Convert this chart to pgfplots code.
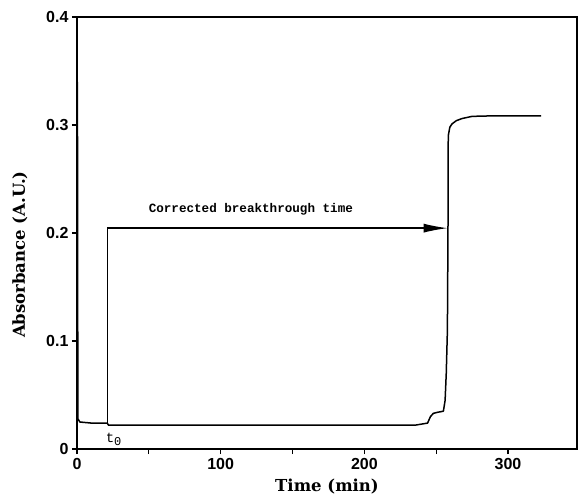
\documentclass[border=0pt]{standalone}
\usepackage{fontspec}
\setmainfont{DejaVu Serif}
\newfontfamily\ticksf{Liberation Sans}
\newfontfamily\mono{Liberation Mono}
\usepackage{pgfplots}
\pgfplotsset{compat=1.18}
\usetikzlibrary{arrows.meta}
\begin{document}
\begin{tikzpicture}
\begin{axis}[
  scale only axis,
  width=500pt, height=432pt,
  xmin=0, xmax=348, ymin=0, ymax=0.4,
  axis line style={line width=1.3pt},
  xtick={0,100,200,300},
  xticklabels={0,100,200,300},
  minor xtick={50,150,250},
  ytick={0,0.1,0.2,0.3,0.4},
  yticklabels={0,0.1,0.2,0.3,0.4},
  tick align=outside,
  xtick pos=bottom, ytick pos=left,
  major tick length=5pt, minor tick length=5pt,
  every tick/.style={line width=1.1pt, black},
  /pgf/number format/assume math mode=true,
  tick label style={font=\ticksf\bfseries\fontsize{16}{16}\selectfont},
  xticklabel style={yshift=-1pt},
  xlabel={\bfseries Time (min)},
  ylabel={\bfseries Absorbance (A.U.)},
  label style={font=\fontsize{16.5}{16.5}\selectfont},
  xlabel style={at={(rel axis cs:0.5,0)}, anchor=north, yshift=-26pt},
  ylabel style={at={(rel axis cs:0,0.45)}, anchor=south, yshift=46pt},
  clip=false,
]
\addplot[black, line width=1.5pt, line join=round] coordinates {
(0.3,0.34) (0.6,0.028) (2,0.025) (10,0.024) (21,0.024) (22,0.022)
(60,0.022) (100,0.022) (150,0.022) (200,0.022) (235,0.022)
(244,0.024) (246,0.030) (248,0.033) (251,0.034) (255,0.035)
(256.2,0.045) (257,0.07) (257.8,0.11) (258.2,0.2) (258.4,0.29)
(259.5,0.298) (261,0.301) (264,0.304) (268,0.306) (275,0.308)
(290,0.3085) (323,0.3085)
};
\addplot[black, line width=1.3pt, -{Latex[length=24pt,width=9pt]}] coordinates {
(21,0.024) (21,0.2045) (258,0.2045)
};
\node[font=\mono\bfseries\fontsize{12.6}{12.6}\selectfont] at (axis cs:121,0.222) {Corrected breakthrough time};
\node[font=\mono\fontsize{14}{14}\selectfont, inner sep=0pt] at (axis cs:25.5,0.009) {t\raisebox{-3pt}{\fontsize{12}{12}\selectfont 0}};
\end{axis}
\path (current axis.south west) ++(-77pt,-50pt) rectangle ++(579pt,499pt);
\end{tikzpicture}
\end{document}
